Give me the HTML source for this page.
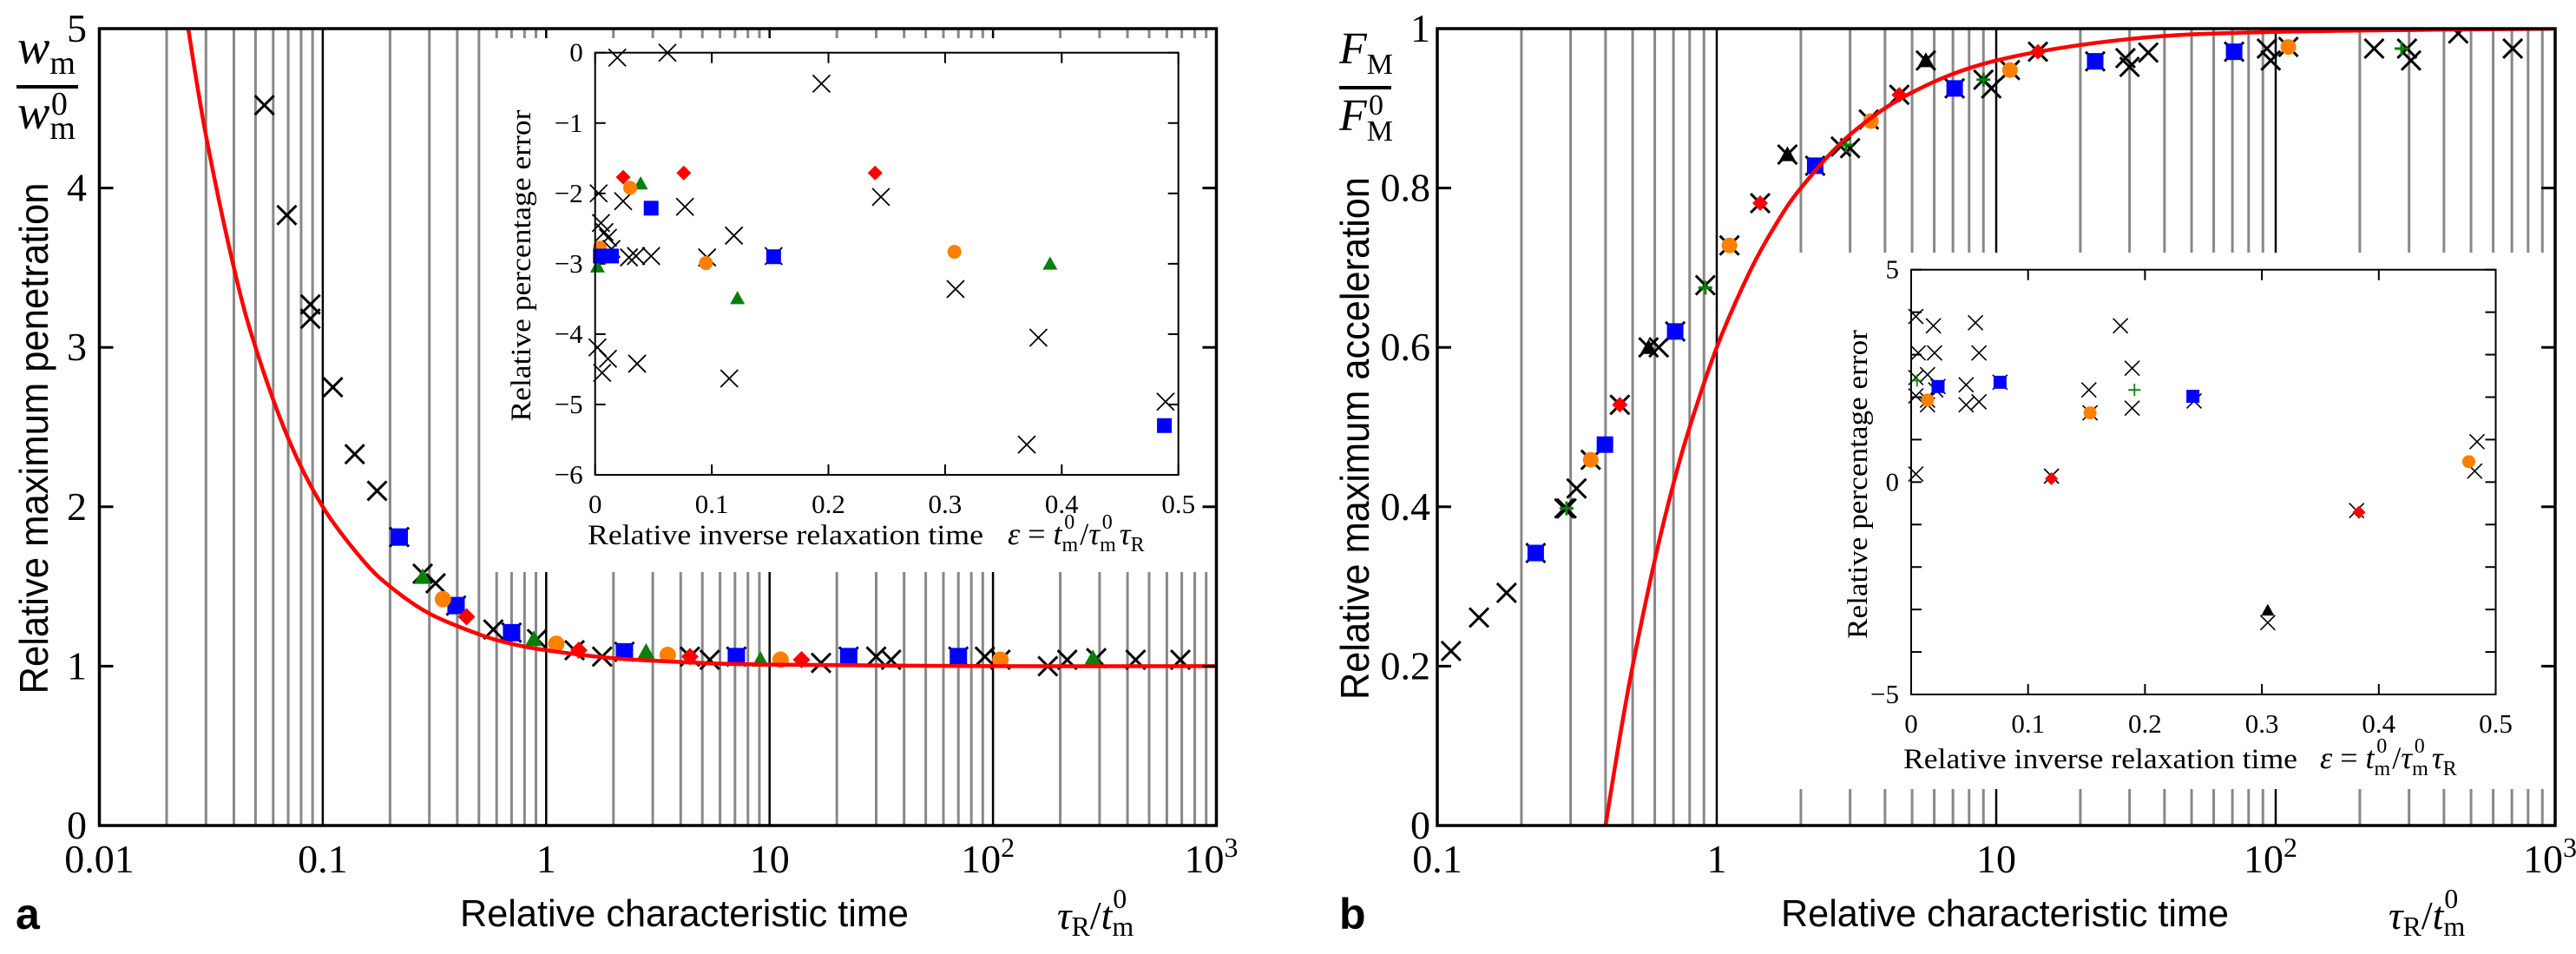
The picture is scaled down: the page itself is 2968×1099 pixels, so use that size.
<!DOCTYPE html>
<html><head><meta charset="utf-8"><title>Relative maximum penetration and acceleration</title>
<style>
html,body{margin:0;padding:0;background:#fff;}
svg{display:block;}
.serif{font-family:"Liberation Serif",serif;}
.sans{font-family:"Liberation Sans",sans-serif;}
</style></head>
<body>
<svg id="fig" width="2968" height="1099" viewBox="0 0 2968 1099" xmlns="http://www.w3.org/2000/svg">
<defs>
<clipPath id="clipA"><rect x="114.5" y="33" width="1287" height="918"/></clipPath>
<clipPath id="clipB"><rect x="1656" y="33" width="1288" height="918"/></clipPath>
</defs>
<g id="panelA"></g>
<g id="panelB"></g>
</svg>
<script>
// ---------- Panel A main data ----------
const aCrossX=[0.0548,0.069,0.088,0.088,0.111,0.139,0.175,0.28,0.32,0.58,0.91,1.34,1.78,4.4,5.4,17,30,35,92,108,176,215,290,435,690,0.22,0.395,0.70,2.24,7.1,22.6,70];
const aCrossY=[4.52,3.83,3.27,3.18,2.75,2.33,2.10,1.58,1.52,1.23,1.17,1.10,1.06,1.06,1.04,1.02,1.06,1.04,1.06,1.04,1.00,1.04,1.05,1.04,1.04,1.81,1.38,1.21,1.09,1.06,1.06,1.06];
const aSqX=[0.22,0.395,0.70,2.24,7.1,22.6,70];
const aSqY=[1.81,1.38,1.21,1.09,1.06,1.06,1.06];
const aTriX=[0.28,0.88,2.8,9.1,280];
const aTriY=[1.56,1.17,1.09,1.04,1.05];
const aCirX=[0.345,1.11,3.5,11.2,108];
const aCirY=[1.42,1.14,1.07,1.04,1.04];
const aDiaX=[0.44,1.4,4.4,13.9];
const aDiaY=[1.31,1.10,1.06,1.04];
const aCurveX=[0.024,0.025,0.03,0.04,0.05,0.07,0.1,0.15,0.2,0.3,0.5,0.7,1,2,5,10,100,1000];
const aCurveY=[5.2,5,4.33,3.5,3,2.43,2,1.67,1.5,1.33,1.2,1.14,1.1,1.05,1.02,1.01,1.0,1.0];
const aYTicks=[0,1,2,3,4,5];
// ---------- Panel A inset ----------
const aiCrossX=[0.019,0.062,0.194,0.245,0.003,0.024,0.077,0.005,0.008,0.011,0.014,0.029,0.035,0.048,0.096,0.119,0.153,0.002,0.011,0.036,0.006,0.115,0.309,0.38,0.37,0.489];
const aiCrossY=[-0.07,0.0,-0.44,-2.05,-2.0,-2.11,-2.19,-2.42,-2.55,-2.63,-2.79,-2.91,-2.89,-2.89,-2.91,-2.60,-2.89,-4.19,-4.35,-4.42,-4.55,-4.63,-3.36,-4.05,-5.57,-4.96];
const aiDiaX=[0.024,0.076,0.240];
const aiDiaY=[-1.77,-1.71,-1.71];
const aiTriX=[0.039,0.002,0.122,0.39];
const aiTriY=[-1.86,-3.04,-3.49,-3.0];
const aiCirX=[0.030,0.004,0.095,0.308];
const aiCirY=[-1.92,-2.77,-2.99,-2.83];
const aiSqX=[0.048,0.0045,0.014,0.153,0.488];
const aiSqY=[-2.21,-2.89,-2.89,-2.90,-5.30];
const aiYTicks=[0,-1,-2,-3,-4,-5,-6];
const aiXTicks=[0,0.1,0.2,0.3,0.4,0.5];
// ---------- Panel B main data ----------
const bCrossX=[0.112,0.141,0.177,0.285,0.315,0.62,0.91,2.78,3.0,3.5,9.6,29,30,35,93,96,225,295,305,450,705,0.225,0.354,0.45,0.57,0.71,1.11,1.43,1.79,2.25,4.5,5.6,7.1,9.0,11.2,14.1,22.6,71,111,0.29];
const bCrossY=[0.219,0.261,0.292,0.398,0.423,0.60,0.678,0.852,0.85,0.886,0.925,0.963,0.952,0.97,0.975,0.96,0.975,0.975,0.96,0.994,0.975,0.342,0.459,0.528,0.60,0.62,0.728,0.781,0.842,0.828,0.917,0.96,0.925,0.936,0.948,0.971,0.959,0.971,0.977,0.398];
const bSqX=[0.225,0.398,0.71,2.25,7.1,22.6,71];
const bSqY=[0.342,0.478,0.62,0.828,0.925,0.959,0.971];
const bCirX=[0.354,1.11,3.56,11.2,111];
const bCirY=[0.459,0.728,0.884,0.948,0.977];
const bDiaX=[0.45,1.43,4.5,14.1];
const bDiaY=[0.528,0.781,0.917,0.971];
const bPlusX=[0.29,0.91,2.9,9.0,282];
const bPlusY=[0.398,0.675,0.854,0.936,0.975];
const bTriX=[0.57,1.79,5.6];
const bTriY=[0.60,0.842,0.96];
const bCurveX=[0.4,0.45,0.5,0.6,0.7,0.8,1,1.3,1.6,2,3,5,10,30,100,1000];
const bCurveY=[0,0.111,0.2,0.333,0.429,0.5,0.6,0.692,0.75,0.8,0.867,0.92,0.96,0.987,0.996,1];
const bYTicks=[0,0.2,0.4,0.6,0.8,1];
const bYTickLabels=["0","0.2","0.4","0.6","0.8","1"];
// ---------- Panel B inset ----------
const biCrossX=[0.004,0.006,0.020,0.019,0.004,0.014,0.004,0.014,0.021,0.047,0.055,0.058,0.047,0.058,0.152,0.189,0.179,0.189,0.242,0.004,0.120,0.381,0.484,0.482,0.305,0.153,0.014,0.023,0.076];
const biCrossY=[3.90,3.04,3.04,3.68,2.46,2.53,2.03,1.82,2.17,2.29,3.75,3.04,1.82,1.89,2.17,2.68,3.68,1.74,1.91,0.19,0.14,-0.67,0.95,0.26,-3.31,1.63,1.93,2.25,2.35];
const biSqX=[0.023,0.076,0.241];
const biSqY=[2.25,2.35,2.02];
const biCirX=[0.014,0.153,0.477];
const biCirY=[1.93,1.63,0.48];
const biDiaX=[0.120,0.383];
const biDiaY=[0.08,-0.71];
const biTriX=[0.305];
const biTriY=[-3.02];
const biPlusX=[0.191,0.005];
const biPlusY=[2.17,2.39];
const biYTicks=[-5,-4,-3,-2,-1,0,1,2,3,4,5];
const biYLabels=[-5,0,5];
const biXTicks=[0,0.1,0.2,0.3,0.4,0.5];

const NS="http://www.w3.org/2000/svg";
function el(tag,attrs,parent){const e=document.createElementNS(NS,tag);for(const k in attrs)e.setAttribute(k,attrs[k]);if(parent)parent.appendChild(e);return e;}

const A={x0:114.5,x1:1401.5,y0:33,y1:951,lmin:-2,lmax:3,ymin:0,ymax:5};
const B={x0:1656,x1:2944,y0:33,y1:951,lmin:-1,lmax:3,ymin:0,ymax:1};
const IA={x0:685.7,x1:1357.7,y0:60.7,y1:547,xmin:0,xmax:0.5,ymin:-6,ymax:0};
const IB={x0:2202,x1:2875.5,y0:310.7,y1:800,xmin:0,xmax:0.5,ymin:-5,ymax:5};
function lx(P,v){return P.x0+(Math.log10(v)-P.lmin)/(P.lmax-P.lmin)*(P.x1-P.x0);}
function ly(P,v){return P.y1-(v-P.ymin)/(P.ymax-P.ymin)*(P.y1-P.y0);}
function ix(P,v){return P.x0+(v-P.xmin)/(P.xmax-P.xmin)*(P.x1-P.x0);}

const COL={blue:"#0000ff",green:"#0a800a",orange:"#ff8000",red:"#ff0000",black:"#000"};

function marker(g,type,x,y,s,color,sw){
  let e;
  if(type==="x"){const h=s/2;e=el("path",{d:`M${x-h},${y-h}L${x+h},${y+h}M${x-h},${y+h}L${x+h},${y-h}`,stroke:color,"stroke-width":sw,fill:"none"},g);}
  else if(type==="plus"){const h=s/2;e=el("path",{d:`M${x-h},${y}L${x+h},${y}M${x},${y-h}L${x},${y+h}`,stroke:color,"stroke-width":sw,fill:"none"},g);}
  else if(type==="sq"){e=el("rect",{x:x-s/2,y:y-s/2,width:s,height:s,fill:color},g);}
  else if(type==="ci"){e=el("circle",{cx:x,cy:y,r:s/2,fill:color},g);}
  else if(type==="di"){const h=s/2;e=el("path",{d:`M${x},${y-h}L${x+h},${y}L${x},${y+h}L${x-h},${y}Z`,fill:color},g);}
  else if(type==="tri"){const h=s/2;e=el("path",{d:`M${x},${y-h}L${x+h},${y+h*0.8}L${x-h},${y+h*0.8}Z`,fill:color},g);}
  return e;
}
function series(g,name,type,xs,ys,fx,fy,s,color,sw){
  const sg=el("g",{},g);
  
  
  for(let i=0;i<xs.length;i++){
    const m=marker(sg,type,fx(xs[i]),fy(ys[i]),s,color,sw);
    
    
  }
}
function smoothPath(pts){
  let d=`M${pts[0][0]},${pts[0][1]}`;
  for(let i=0;i<pts.length-1;i++){
    const p0=pts[i-1]||pts[i],p1=pts[i],p2=pts[i+1],p3=pts[i+2]||p2;
    const c1=[p1[0]+(p2[0]-p0[0])/6,p1[1]+(p2[1]-p0[1])/6];
    const c2=[p2[0]-(p3[0]-p1[0])/6,p2[1]-(p3[1]-p1[1])/6];
    d+=`C${c1[0]},${c1[1]} ${c2[0]},${c2[1]} ${p2[0]},${p2[1]}`;
  }
  return d;
}
function txt(g,x,y,str,attrs,name){
  const t=el("text",Object.assign({x:x,y:y},attrs),g);t.textContent=str;
  
  
  return t;
}
function grid(g,P){
  const gg=el("g",{},g);
  
  
  for(let d=P.lmin;d<P.lmax;d++){
    for(let k=1;k<10;k++){
      const v=k*Math.pow(10,d);if(k===1&&d===P.lmin)continue;
      const x=lx(P,v);
      el("line",{x1:x,x2:x,y1:P.y0,y2:P.y1,stroke:k===1?"#000":"#888","stroke-width":k===1?2.5:3},gg);
    }
  }
}
function xDecadeLabels(g,P,y){
  for(let d=P.lmin;d<=P.lmax;d++){
    const x=lx(P,Math.pow(10,d));
    let t;
    if(d<2){const s=d===-2?"0.01":d===-1?"0.1":d===0?"1":"10";t=txt(g,x,y,s,{class:"serif","font-size":46,"text-anchor":"middle"},'x-tick-label');}
    else{t=txt(g,x-6,y,"10",{class:"serif","font-size":46,"text-anchor":"middle"},'x-tick-label');
      const sup=el("tspan",{"font-size":32,dy:-18},t);sup.textContent=String(d);}
  }
}
function insetFrame(g,P,name){
  const f=el("rect",{x:P.x0,y:P.y0,width:P.x1-P.x0,height:P.y1-P.y0,fill:"none",stroke:"#000","stroke-width":2},g);
  
  
}
const FORMULA='<tspan font-style="italic">ε</tspan> = <tspan font-style="italic">t</tspan><tspan font-size="24" dy="8">m</tspan><tspan font-size="24" dx="-16" dy="-26">0</tspan><tspan dx="6" dy="18">/</tspan><tspan font-style="italic">τ</tspan><tspan font-size="24" dy="8">m</tspan><tspan font-size="24" dx="-16" dy="-26">0</tspan><tspan font-style="italic" dx="8" dy="18">τ</tspan><tspan font-size="24" dy="8">R</tspan>';
const UNIT='<tspan font-style="italic">τ</tspan><tspan font-size="32" dy="8">R</tspan><tspan dy="-8">/</tspan><tspan font-style="italic">t</tspan><tspan font-size="32" dy="8">m</tspan><tspan font-size="32" dx="-24" dy="-32">0</tspan>';

// ================= PANEL A =================
(function(){
  const g=document.getElementById('panelA');
  grid(g,A);
  const wb=el("rect",{x:555,y:44,width:846,height:615,fill:"#fff"},g);
  
  
  const ig=el("g",{},g);
  
  
  const fy=v=>ly(IA,v),fx=v=>ix(IA,v);
  for(const v of aiYTicks){const y=fy(v);
    el("line",{x1:IA.x0,x2:IA.x0+12,y1:y,y2:y,stroke:"#000","stroke-width":2},ig);
    el("line",{x1:IA.x1,x2:IA.x1-12,y1:y,y2:y,stroke:"#000","stroke-width":2},ig);
    txt(ig,IA.x0-14,y+10,v===0?"0":"\u2212"+(-v),{class:"serif","font-size":31,"text-anchor":"end"},'inset-a-y-tick-label');}
  for(const v of aiXTicks){const x=fx(v);
    el("line",{x1:x,x2:x,y1:IA.y1,y2:IA.y1-12,stroke:"#000","stroke-width":2},ig);
    el("line",{x1:x,x2:x,y1:IA.y0,y2:IA.y0+12,stroke:"#000","stroke-width":2},ig);
    txt(ig,x,IA.y1+44,String(v),{class:"serif","font-size":31,"text-anchor":"middle"},'inset-a-x-tick-label');}
  series(ig,'inset-a-crosses','x',aiCrossX,aiCrossY,fx,fy,20,"#000",1.8);
  series(ig,'inset-a-diamonds','di',aiDiaX,aiDiaY,fx,fy,17,COL.red);
  series(ig,'inset-a-triangles','tri',aiTriX,aiTriY,fx,fy,17,COL.green);
  series(ig,'inset-a-circles','ci',aiCirX,aiCirY,fx,fy,16,COL.orange);
  series(ig,'inset-a-squares','sq',aiSqX,aiSqY,fx,fy,17,COL.blue);
  insetFrame(ig,IA,'inset-a-frame');
  txt(ig,0,0,"Relative percentage error",{class:"serif","font-size":33,"text-anchor":"middle",textLength:359,lengthAdjust:"spacingAndGlyphs",transform:"translate(611,306) rotate(-90)"},'inset-a-y-axis-title');
  txt(ig,677,627,"Relative inverse relaxation time",{class:"serif","font-size":33,textLength:456,lengthAdjust:"spacingAndGlyphs"},'inset-a-x-axis-title');
  const f=txt(ig,1161,627,"",{class:"serif","font-size":36},'inset-a-x-axis-formula');
  f.innerHTML=FORMULA;
  const mg=el("g",{"clip-path":"url(#clipA)"},g);
  
  
  const mx=v=>lx(A,v),my=v=>ly(A,v);
  series(mg,'a-crosses','x',aCrossX,aCrossY,mx,my,22,"#000",3);
  series(mg,'a-squares','sq',aSqX,aSqY,mx,my,20,COL.blue);
  series(mg,'a-triangles','tri',aTriX,aTriY,mx,my,20,COL.green);
  series(mg,'a-circles','ci',aCirX,aCirY,mx,my,19,COL.orange);
  series(mg,'a-diamonds','di',aDiaX,aDiaY,mx,my,20,COL.red);
  const pts=aCurveX.map((v,i)=>[mx(v),my(aCurveY[i])]);
  const c=el("path",{d:smoothPath(pts),fill:"none",stroke:COL.red,"stroke-width":4.5},mg);
  
  
  const fr=el("rect",{x:A.x0,y:A.y0,width:A.x1-A.x0,height:A.y1-A.y0,fill:"none",stroke:"#000","stroke-width":3.5},g);
  
  
  for(const v of aYTicks){const y=my(v);
    el("line",{x1:A.x1,x2:A.x1-16,y1:y,y2:y,stroke:"#000","stroke-width":3},g);
    el("line",{x1:A.x0,x2:A.x0+16,y1:y,y2:y,stroke:"#000","stroke-width":3},g);
    txt(g,100,y+15,String(v),{class:"serif","font-size":46,"text-anchor":"end"},'y-tick-label');}
  xDecadeLabels(g,A,1005);
  txt(g,0,0,"Relative maximum penetration",{class:"sans","font-size":46,"text-anchor":"middle",textLength:589,lengthAdjust:"spacingAndGlyphs",transform:"translate(55,505) rotate(-90)"},'y-axis-title');
  txt(g,530,1067,"Relative characteristic time",{class:"sans","font-size":44,textLength:517,lengthAdjust:"spacingAndGlyphs"},'x-axis-title');
  txt(g,18,1070,"a",{class:"sans","font-size":50,"font-weight":"bold"},'panel-label-a');
  const tu=txt(g,1218,1070,"",{class:"serif","font-size":46},'x-axis-unit');
  tu.innerHTML=UNIT;
  const fn=txt(g,20,73,"",{class:"serif","font-size":56},'y-axis-symbol-numerator');
  fn.innerHTML='<tspan font-style="italic">w</tspan><tspan font-size="38" dy="12">m</tspan>';
  el("line",{x1:19,x2:90,y1:100,y2:100,stroke:"#000","stroke-width":4},g);
  const fd=txt(g,20,148,"",{class:"serif","font-size":56},'y-axis-symbol-denominator');
  fd.innerHTML='<tspan font-style="italic">w</tspan><tspan font-size="38" dy="12">m</tspan><tspan font-size="38" dx="-28" dy="-28">0</tspan>';
})();

// ================= PANEL B =================
(function(){
  const g=document.getElementById('panelB');
  grid(g,B);
  const wb=el("rect",{x:2040,y:291,width:904,height:618,fill:"#fff"},g);
  
  
  const ig=el("g",{},g);
  
  
  const fy=v=>ly(IB,v),fx=v=>ix(IB,v);
  for(const v of biYTicks){const y=fy(v);
    el("line",{x1:IB.x0,x2:IB.x0+12,y1:y,y2:y,stroke:"#000","stroke-width":2},ig);
    el("line",{x1:IB.x1,x2:IB.x1-12,y1:y,y2:y,stroke:"#000","stroke-width":2},ig);}
  for(const v of biYLabels){txt(ig,IB.x0-14,fy(v)+10,v<0?"\u2212"+(-v):String(v),{class:"serif","font-size":31,"text-anchor":"end"},'inset-b-y-tick-label');}
  for(const v of biXTicks){const x=fx(v);
    el("line",{x1:x,x2:x,y1:IB.y1,y2:IB.y1-12,stroke:"#000","stroke-width":2},ig);
    el("line",{x1:x,x2:x,y1:IB.y0,y2:IB.y0+12,stroke:"#000","stroke-width":2},ig);
    txt(ig,x,IB.y1+44,String(v),{class:"serif","font-size":31,"text-anchor":"middle"},'inset-b-x-tick-label');}
  series(ig,'inset-b-crosses','x',biCrossX,biCrossY,fx,fy,17,"#000",1.6);
  series(ig,'inset-b-squares','sq',biSqX,biSqY,fx,fy,15,COL.blue);
  series(ig,'inset-b-circles','ci',biCirX,biCirY,fx,fy,15,COL.orange);
  series(ig,'inset-b-diamonds','di',biDiaX,biDiaY,fx,fy,15,COL.red);
  series(ig,'inset-b-triangles','tri',biTriX,biTriY,fx,fy,15,"#000");
  series(ig,'inset-b-plus','plus',biPlusX,biPlusY,fx,fy,14,COL.green,1.8);
  insetFrame(ig,IB,'inset-b-frame');
  txt(ig,0,0,"Relative percentage error",{class:"serif","font-size":33,"text-anchor":"middle",textLength:356,lengthAdjust:"spacingAndGlyphs",transform:"translate(2151,558) rotate(-90)"},'inset-b-y-axis-title');
  txt(ig,2193,885,"Relative inverse relaxation time",{class:"serif","font-size":33,textLength:454,lengthAdjust:"spacingAndGlyphs"},'inset-b-x-axis-title');
  const f=txt(ig,2673,885,"",{class:"serif","font-size":36},'inset-b-x-axis-formula');
  f.innerHTML=FORMULA;
  const mg=el("g",{"clip-path":"url(#clipB)"},g);
  
  
  const mx=v=>lx(B,v),my=v=>ly(B,v);
  series(mg,'b-crosses','x',bCrossX,bCrossY,mx,my,22,"#000",3);
  series(mg,'b-squares','sq',bSqX,bSqY,mx,my,19,COL.blue);
  series(mg,'b-circles','ci',bCirX,bCirY,mx,my,18,COL.orange);
  series(mg,'b-diamonds','di',bDiaX,bDiaY,mx,my,18,COL.red);
  series(mg,'b-plus','plus',bPlusX,bPlusY,mx,my,16,COL.green,3);
  series(mg,'b-triangles','tri',bTriX,bTriY,mx,my,19,"#000");
  const pts=bCurveX.map((v,i)=>[mx(v),my(bCurveY[i])]);
  const c=el("path",{d:smoothPath(pts),fill:"none",stroke:COL.red,"stroke-width":4.5},mg);
  
  
  const fr=el("rect",{x:B.x0,y:B.y0,width:B.x1-B.x0,height:B.y1-B.y0,fill:"none",stroke:"#000","stroke-width":3.5},g);
  
  
  bYTicks.forEach((v,i)=>{const y=my(v);
    el("line",{x1:B.x1,x2:B.x1-16,y1:y,y2:y,stroke:"#000","stroke-width":3},g);
    el("line",{x1:B.x0,x2:B.x0+16,y1:y,y2:y,stroke:"#000","stroke-width":3},g);
    txt(g,1648,y+15,bYTickLabels[i],{class:"serif","font-size":46,"text-anchor":"end"},'y-tick-label');});
  xDecadeLabels(g,B,1005);
  txt(g,0,0,"Relative maximum acceleration",{class:"sans","font-size":46,"text-anchor":"middle",textLength:602,lengthAdjust:"spacingAndGlyphs",transform:"translate(1577,505) rotate(-90)"},'y-axis-title');
  txt(g,2052,1067,"Relative characteristic time",{class:"sans","font-size":44,textLength:516,lengthAdjust:"spacingAndGlyphs"},'x-axis-title');
  txt(g,1543,1070,"b",{class:"sans","font-size":50,"font-weight":"bold"},'panel-label-b');
  const tu=txt(g,2752,1070,"",{class:"serif","font-size":46},'x-axis-unit');
  tu.innerHTML=UNIT;
  const fn=txt(g,1543,73,"",{class:"serif","font-size":52},'y-axis-symbol-numerator');
  fn.innerHTML='<tspan font-style="italic">F</tspan><tspan font-size="34" dy="12">M</tspan>';
  el("line",{x1:1543,x2:1603,y1:101,y2:101,stroke:"#000","stroke-width":4},g);
  const fd=txt(g,1543,150,"",{class:"serif","font-size":52},'y-axis-symbol-denominator');
  fd.innerHTML='<tspan font-style="italic">F</tspan><tspan font-size="34" dy="12">M</tspan><tspan font-size="34" dx="-28" dy="-30">0</tspan>';
})();
</script>
</body></html>
